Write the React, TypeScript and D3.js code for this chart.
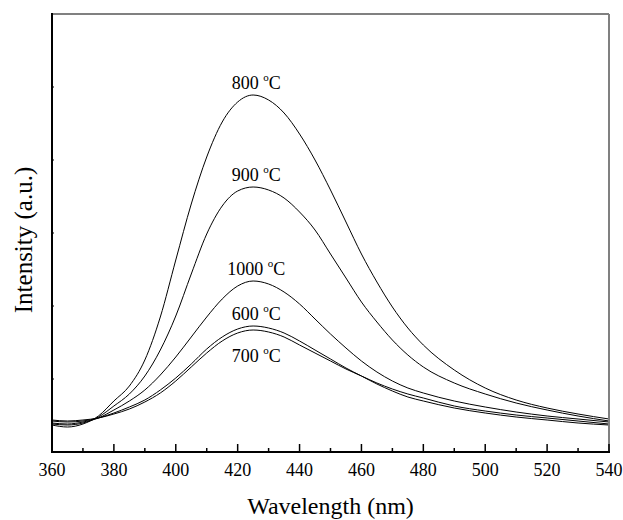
import React from "react";
import * as d3 from "d3";

// wavelength grid (nm)
const wavelengths = [
  360, 365, 370, 375, 380, 385, 390, 395, 400, 405, 410, 415, 420, 425, 430,
  435, 440, 445, 450, 455, 460, 465, 470, 475, 480, 490, 500, 510, 520, 530, 540,
];

// intensity (a.u.)
const s800 = [27, 25, 28, 36, 51, 66, 92, 135, 192, 248, 295, 330, 350, 357, 352, 339, 318, 292, 262, 230, 198, 170, 145, 124, 107, 82, 64, 52, 44, 38, 33];
const s900 = [28, 27, 29, 35, 46, 58, 76, 102, 136, 178, 218, 246, 261, 265, 262, 254, 240, 222, 198, 174, 150, 130, 112, 97, 85, 69, 58, 49, 42, 36, 31];
const s1000 = [29, 28, 30, 34, 42, 51, 62, 77, 95, 115, 135, 153, 166, 171, 168, 160, 148, 133, 118, 104, 91, 80, 71, 64, 59, 51, 45, 40, 36, 33, 30];
const s600 = [31, 30, 31, 34, 39, 45, 52, 62, 74, 88, 103, 115, 123, 126, 124, 119, 111, 102, 93, 84, 76, 68, 61, 55, 51, 44, 39, 35, 32, 29, 27];
const s700 = [32, 31, 32, 34, 38, 43, 50, 59, 71, 85, 99, 111, 119, 122, 120, 115, 107, 99, 91, 83, 76, 69, 63, 58, 54, 46, 41, 37, 34, 31, 28];

const seriesNames = ["800", "900", "1000", "600", "700"];
const seriesValues = [s800, s900, s1000, s600, s700];
// label goes above the peak except for 700 which sits under it
const labelBelow = [false, false, false, false, true];

const xTicks = [360, 380, 400, 420, 440, 460, 480, 500, 520, 540];
const xMinor = [370, 390, 410, 430, 450, 470, 490, 510, 530];
const yTicks = [73, 146, 219, 292, 365];

const W = 623;
const H = 520;
const left = 52;
const right = 609;
const top = 14;
const bottom = 452;

const font = "Liberation Serif, Times New Roman, DejaVu Serif, serif";

export default function App() {
  const x = d3.scaleLinear().domain([360, 540]).range([left, right]);
  const y = d3.scaleLinear().domain([0, 438]).range([bottom, top]);

  const line = d3
    .line<[number, number]>()
    .x((d) => x(d[0]))
    .y((d) => y(d[1]))
    .curve(d3.curveMonotoneX);

  const txt = { fontFamily: font, fill: "#000" };

  return (
    <svg
      width={W}
      height={H}
      style={{ position: "absolute", left: 0, top: 0, background: "#fff" }}
    >
      {seriesValues.map((vals, i) => (
        <path
          key={seriesNames[i]}
          d={line(wavelengths.map((w, j) => [w, vals[j]]) as [number, number][]) || ""}
          fill="none"
          stroke="#000"
          strokeWidth={1}
        />
      ))}

      {seriesValues.map((vals, i) => {
        const k = d3.maxIndex(vals);
        const px = x(wavelengths[k]) + 3;
        const py = labelBelow[i] ? y(vals[k]) + 32 : y(vals[k]) - 6;
        return (
          <text key={"l" + i} x={px} y={py} fontSize={18} textAnchor="middle" style={txt}>
            {seriesNames[i] + " "}
            <tspan fontSize={11} dy={-8}>o</tspan>
            <tspan dy={8}>C</tspan>
          </text>
        );
      })}

      {/* frame */}
      <line x1={left} x2={right} y1={top} y2={top} stroke="#808080" strokeWidth={2} />
      <line x1={right} x2={right} y1={top} y2={bottom} stroke="#808080" strokeWidth={2} />
      <line x1={left} x2={left} y1={top - 1} y2={bottom + 1} stroke="#000" strokeWidth={2} />
      <line x1={left - 1} x2={right + 1} y1={bottom} y2={bottom} stroke="#000" strokeWidth={2} />

      {xTicks.map((t) => (
        <g key={"t" + t}>
          <line x1={x(t)} x2={x(t)} y1={bottom} y2={bottom - 8} stroke="#000" strokeWidth={1.5} />
          <text x={x(t)} y={476} fontSize={18} textAnchor="middle" style={txt}>
            {t}
          </text>
        </g>
      ))}
      {xMinor.map((t) => (
        <line key={"m" + t} x1={x(t)} x2={x(t)} y1={bottom} y2={bottom - 4} stroke="#000" strokeWidth={1.5} />
      ))}
      {yTicks.map((t) => (
        <line key={"y" + t} x1={left} x2={left + 2} y1={y(t)} y2={y(t)} stroke="#000" strokeWidth={1} />
      ))}

      <text x={(left + right) / 2} y={514} fontSize={24} textAnchor="middle" style={txt}>
        Wavelength (nm)
      </text>
      <text
        transform={`translate(32, ${(top + bottom) / 2 + 7}) rotate(-90)`}
        fontSize={25}
        textAnchor="middle"
        style={txt}
      >
        Intensity (a.u.)
      </text>
    </svg>
  );
}
